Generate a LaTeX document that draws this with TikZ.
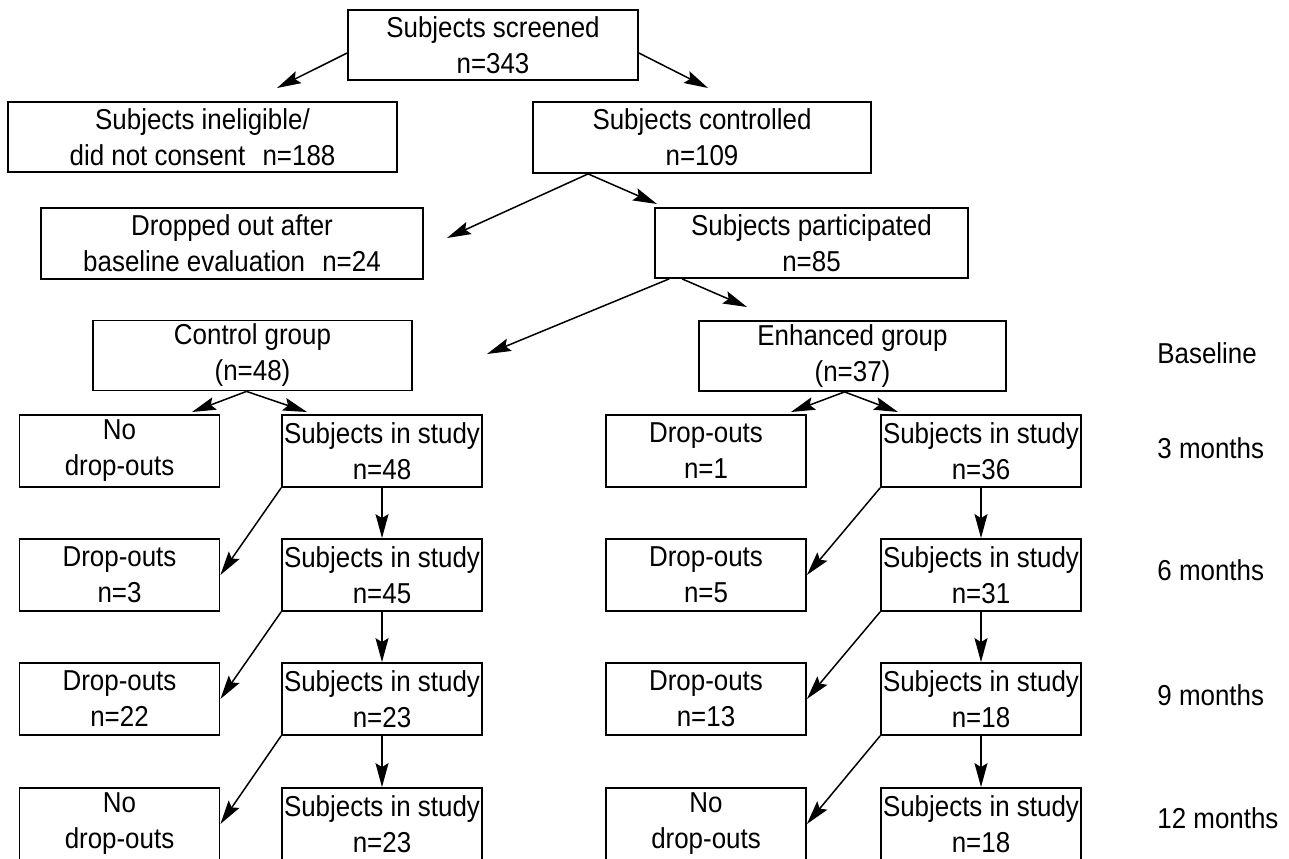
\documentclass[tikz,border=0pt]{standalone}
\usepackage{fontspec}
\setmainfont{Liberation Sans}[FakeStretch=0.9]
\usetikzlibrary{arrows.meta,calc}
\tikzset{
  box/.style={draw,line width=0.9pt,align=center,inner sep=0pt,font=\fontsize{14.4}{18}\selectfont},
  cell/.style={box,minimum width=100pt,minimum height=36pt},
  lbl/.style={anchor=west,inner sep=0pt,font=\fontsize{14.4}{18}\selectfont},
  arr/.style={-{Stealth[length=12pt,width=6.5pt,inset=2pt]},line width=0.75pt},
}
\begin{document}
\begin{tikzpicture}[x=0.5pt,y=-0.5pt]
  \useasboundingbox (0,0) rectangle (1289,858);

  % screening and groups
  \node[box,minimum width=145pt,minimum height=35pt] (screened) at (493,45) {Subjects screened\\n=343};
  \node[box,minimum width=194.5pt,minimum height=35pt] (inelig) at (202.5,137) {Subjects ineligible/\\did not consent\hspace{5pt} n=188};
  \node[box,minimum width=169pt,minimum height=35.5pt] (controlled) at (702,137.5) {Subjects controlled\\n=109};
  \node[box,minimum width=191pt,minimum height=35.5pt] (dropped) at (232,243.5) {Dropped out after\\baseline evaluation\hspace{5pt} n=24};
  \node[box,minimum width=156.5pt,minimum height=35pt] (particip) at (811.5,243) {Subjects participated\\n=85};
  \node[box,minimum width=159.5pt,minimum height=35pt] (control) at (252.5,355.5) {Control group\\(n=48)};
  \node[box,minimum width=153.5pt,minimum height=35pt] (enhanced) at (852.5,356) {Enhanced group\\(n=37)};

  % follow-up rows
  \node[cell] (cdrop3) at (119.5,451) {No\\drop-outs};
  \node[cell] (cstudy3) at (382,451) {Subjects in study\\n=48};
  \node[cell] (edrop3) at (706,451) {Drop-outs\\n=1};
  \node[cell] (estudy3) at (981,451) {Subjects in study\\n=36};

  \node[cell] (cdrop6) at (119.5,575) {Drop-outs\\n=3};
  \node[cell] (cstudy6) at (382,575) {Subjects in study\\n=45};
  \node[cell] (edrop6) at (706,575) {Drop-outs\\n=5};
  \node[cell] (estudy6) at (981,575) {Subjects in study\\n=31};

  \node[cell] (cdrop9) at (119.5,699) {Drop-outs\\n=22};
  \node[cell] (cstudy9) at (382,699) {Subjects in study\\n=23};
  \node[cell] (edrop9) at (706,699) {Drop-outs\\n=13};
  \node[cell] (estudy9) at (981,699) {Subjects in study\\n=18};

  \node[cell] (cdrop12) at (119.5,824) {No\\drop-outs};
  \node[cell] (cstudy12) at (382,824) {Subjects in study\\n=23};
  \node[cell] (edrop12) at (706,824) {No\\drop-outs};
  \node[cell] (estudy12) at (981,824) {Subjects in study\\n=18};

  % time labels
  \node[lbl] (lbase) at (1157,353) {Baseline};
  \node[lbl] (l3) at (1157,448) {3 months};
  \node[lbl] (l6) at (1157,570) {6 months};
  \node[lbl] (l9) at (1157,695) {9 months};
  \node[lbl] (l12) at (1157,818) {12 months};

  % free arrow ends
  \coordinate (tinelig) at (277,88);
  \coordinate (tcontrolled) at (708,88);
  \coordinate (tdropped) at (447,238);
  \coordinate (tparticip) at (657,204);
  \coordinate (tcontrol) at (487,354);
  \coordinate (tenhanced) at (747,307);
  \coordinate (tcdrop) at (192,412);
  \coordinate (tcstudy) at (307,412);
  \coordinate (tedrop) at (791,412);
  \coordinate (testudy) at (898,412);

  \draw[arr] ($(screened.west)+(0,8)$) -- (tinelig);
  \draw[arr] ($(screened.east)+(0,8)$) -- (tcontrolled);
  \draw[arr] ($(controlled.south west)+(56,0)$) -- (tdropped);
  \draw[arr] ($(controlled.south west)+(56,0)$) -- (tparticip);
  \draw[arr] ($(particip.south west)+(15,0)$) -- (tcontrol);
  \draw[arr] ($(particip.south west)+(28,0)$) -- (tenhanced);
  \draw[arr] ($(control.south)+(-6,0)$) -- (tcdrop);
  \draw[arr] ($(control.south)+(-6,0)$) -- (tcstudy);
  \draw[arr] ($(enhanced.south)+(-8,0)$) -- (tedrop);
  \draw[arr] ($(enhanced.south)+(-8,0)$) -- (testudy);

  \foreach \a/\b in {3/6,6/9,9/12}{
    \draw[arr] (cstudy\a) -- (cstudy\b);
    \draw[arr] (cstudy\a.south west) -- (cdrop\b.east);
    \draw[arr] (estudy\a) -- (estudy\b);
    \draw[arr] (estudy\a.south west) -- (edrop\b.east);
  }
\end{tikzpicture}
\end{document}
